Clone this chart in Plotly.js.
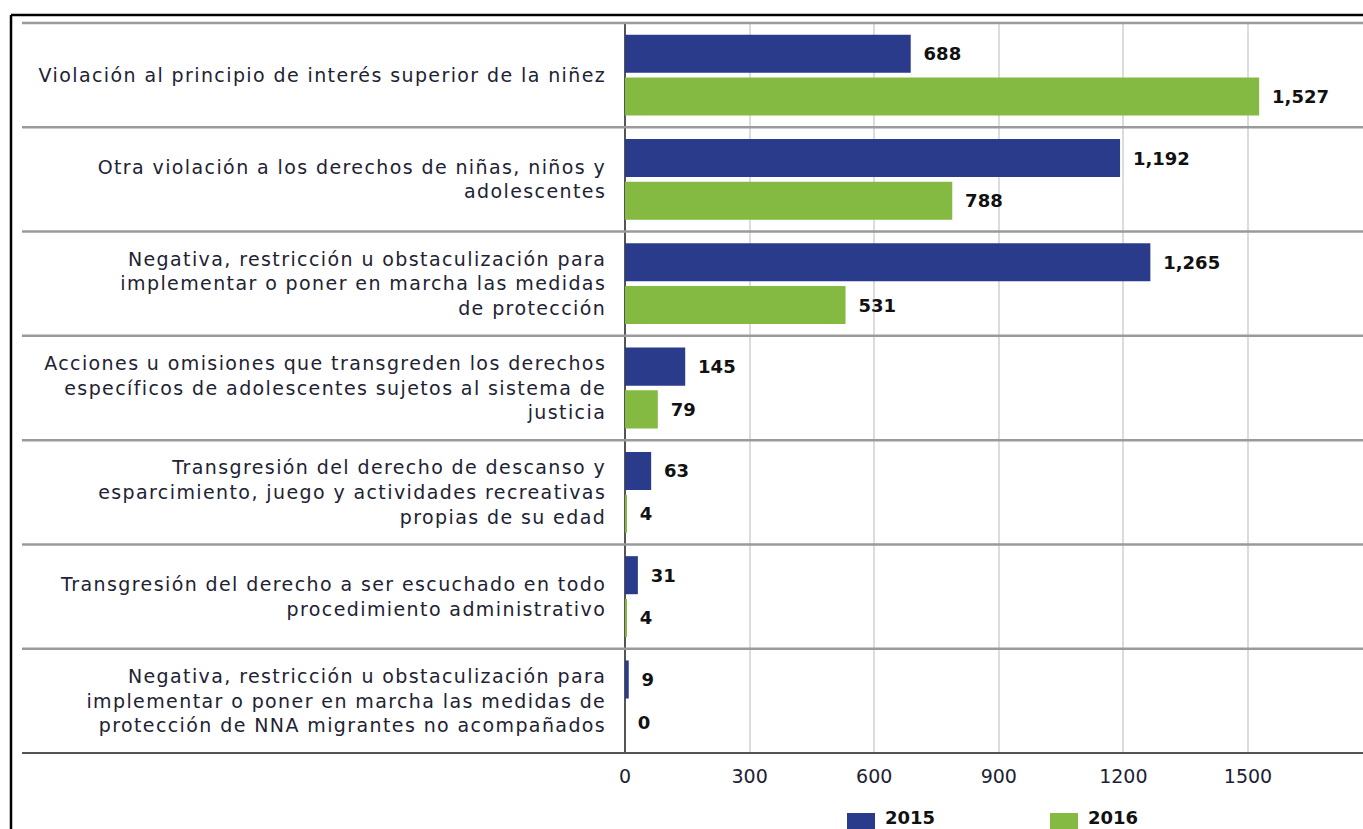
<!DOCTYPE html>
<html>
<head>
<meta charset="utf-8">
<script src="https://cdn.plot.ly/plotly-3.0.1.min.js"></script>
<style>
html, body { margin: 0; padding: 0; background: #ffffff; }
#chart { width: 1363px; height: 829px; }
#chart .ytick text { letter-spacing: 1.4px; }
</style>
</head>
<body>
<div id="chart"></div>
<script>
// ---- data ----
const categories = [
  "Violación al principio de interés superior de la niñez",
  "Otra violación a los derechos de niñas, niños y<br>adolescentes",
  "Negativa, restricción u obstaculización para<br>implementar o poner en marcha las medidas<br>de protección",
  "Acciones u omisiones que transgreden los derechos<br>específicos de adolescentes sujetos al sistema de<br>justicia",
  "Transgresión del derecho de descanso y<br>esparcimiento, juego y actividades recreativas<br>propias de su edad",
  "Transgresión del derecho a ser escuchado en todo<br>procedimiento administrativo",
  "Negativa, restricción u obstaculización para<br>implementar o poner en marcha las medidas de<br>protección de NNA migrantes no acompañados"
];
const seriesNames = ["2015", "2016"];
const values2015 = [688, 1192, 1265, 145, 63, 31, 9];
const values2016 = [1527, 788, 531, 79, 4, 4, 0];
const xTickValues = [0, 300, 600, 900, 1200, 1500];
const xTickLabels = ["0", "300", "600", "900", "1200", "1500"];

// ---- styles ----
const colors = ["#2a3b8b", "#84b942"];
const labelFont = { family: "DejaVu Sans", size: 18, color: "#111111", weight: "bold" };

const traces = [values2015, values2016].map((vals, i) => ({
  type: "bar",
  orientation: "h",
  name: seriesNames[i],
  y: categories,
  x: vals,
  marker: { color: colors[i] },
  texttemplate: "\u00a0\u2009%{x:,}",
  textposition: "outside",
  cliponaxis: false,
  constraintext: "none",
  textfont: labelFont,
  hoverinfo: "x+name"
}));

// layout geometry helpers (pixels -> paper)
const W = 1363, H = 829, L = 625, T = 23, B = 76;
const pw = W - L, ph = H - T - B;
const px = p => (p - L) / pw;
const py = p => (H - B - p) / ph;

const shapes = [];
// outer frame
shapes.push({ type: "line", xref: "paper", yref: "paper", x0: px(11), x1: px(1363), y0: py(15), y1: py(15), line: { color: "#000000", width: 2.5 } });
shapes.push({ type: "line", xref: "paper", yref: "paper", x0: px(11), x1: px(11), y0: py(15), y1: py(829), line: { color: "#000000", width: 2.5 } });
// category separators
const n = categories.length;
for (let k = 0; k <= n; k++) {
  const yy = 1 - k / n;
  shapes.push({
    type: "line", xref: "paper", yref: "paper",
    x0: px(22), x1: 1, y0: yy, y1: yy,
    line: { color: k === n ? "#555555" : "#9a9a9a", width: k === n ? 2 : 2.5 },
    layer: "above"
  });
}
// legend swatches
const legendX = [847, 1050];
const annotations = [];
seriesNames.forEach((nm, i) => {
  shapes.push({
    type: "rect", xref: "paper", yref: "paper",
    x0: px(legendX[i]), x1: px(legendX[i] + 28),
    y0: py(813), y1: py(842),
    fillcolor: colors[i], line: { width: 0 }
  });
  annotations.push({
    xref: "paper", yref: "paper",
    x: px(legendX[i] + 37), y: py(829),
    xanchor: "left", yanchor: "bottom",
    borderpad: 0,
    text: nm, showarrow: false,
    font: { family: "DejaVu Sans", size: 18, color: "#111111", weight: "bold" }
  });
});

const layout = {
  width: W, height: H,
  margin: { l: L, r: 0, t: T, b: B, pad: 0 },
  paper_bgcolor: "#ffffff",
  plot_bgcolor: "#ffffff",
  barmode: "group",
  bargap: 0.18,
  bargroupgap: 0.11,
  showlegend: false,
  xaxis: {
    range: [0, 1777],
    tickvals: xTickValues,
    ticktext: xTickLabels,
    showgrid: true,
    gridcolor: "#dcdcdc",
    gridwidth: 2,
    zeroline: true,
    zerolinecolor: "#555555",
    zerolinewidth: 1.5,
    showline: false,
    ticks: "outside",
    ticklen: 6,
    tickcolor: "rgba(0,0,0,0)",
    tickfont: { family: "DejaVu Sans", size: 19, color: "#1c2233" },
    automargin: false,
    fixedrange: true
  },
  yaxis: {
    type: "category",
    autorange: "reversed",
    showgrid: false,
    zeroline: false,
    showline: false,
    ticks: "outside",
    ticklen: 14,
    tickcolor: "rgba(0,0,0,0)",
    tickfont: { family: "DejaVu Sans", size: 19, color: "#222233" },
    automargin: false,
    fixedrange: true
  },
  shapes: shapes,
  annotations: annotations
};

Plotly.newPlot("chart", traces, layout, { displayModeBar: false, responsive: false });
</script>
</body>
</html>
